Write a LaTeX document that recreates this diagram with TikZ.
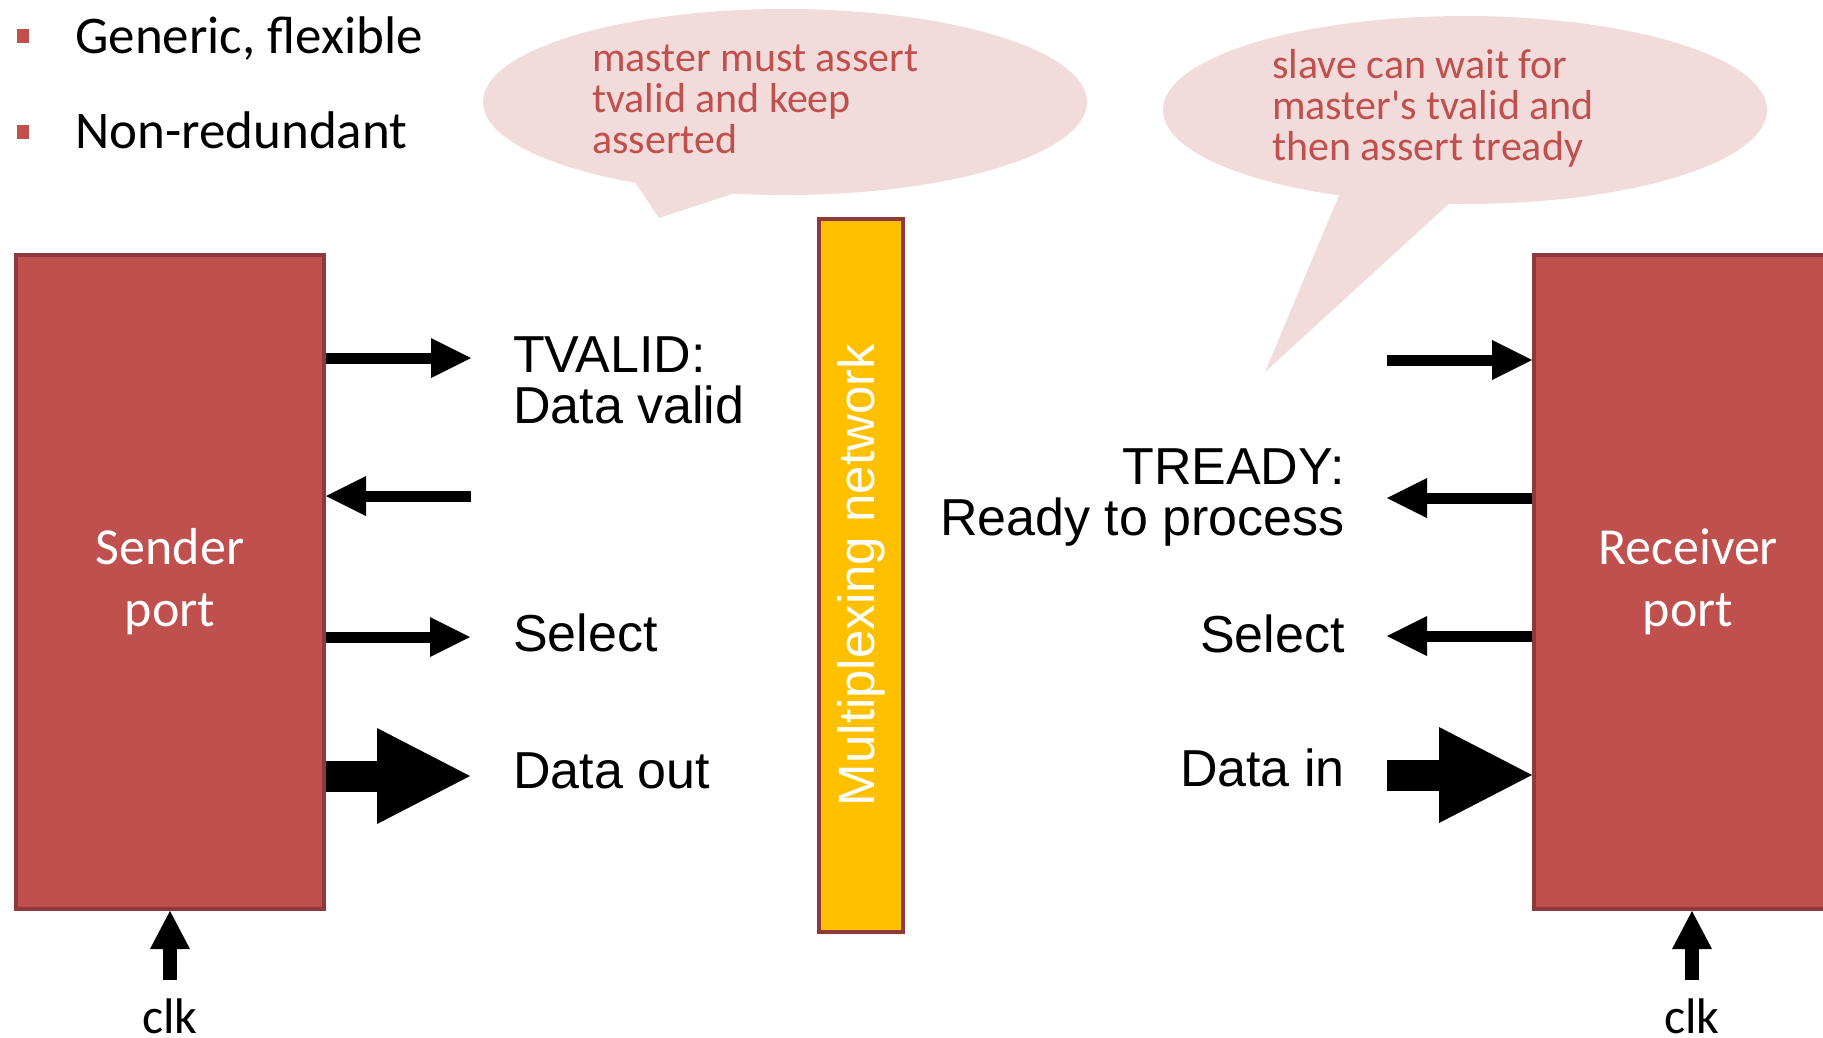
\documentclass[tikz,border=0pt]{standalone}
\usepackage{fontspec}
\setmainfont{Carlito}
\newfontfamily\arialfont{Liberation Sans}
\usetikzlibrary{arrows.meta}
\definecolor{portred}{HTML}{C0504D}
\definecolor{portedge}{HTML}{8C3A3B}
\definecolor{bubblepink}{HTML}{F2DCDB}
\definecolor{muxyellow}{HTML}{FFC000}

\begin{document}
\begin{tikzpicture}[x=1pt, y=-1pt,
  port/.style={draw=portedge, line width=4pt, fill=portred, text=white, minimum width=308pt, minimum height=654pt, align=center, font=\fontsize{52}{62}\selectfont},
  sig/.style={line width=11pt, -{Triangle[length=40pt, width=40pt, line width=0pt]}},
  bus/.style={line width=31pt, -{Triangle[length=93pt, width=96pt, line width=0pt]}},
  clkin/.style={line width=14pt, -{Triangle[length=38pt, width=40pt, line width=0pt]}},
  lbl/.style={inner sep=0pt, align=left, font=\arialfont\fontsize{52}{51}\selectfont},
  note/.style={inner sep=0pt, text=portred, align=left, font=\fontsize{42}{41}\selectfont},
  bubble/.style={fill=bubblepink}]
\useasboundingbox (0,0) rectangle (1823,1037);

% bullet list
\fill[portred] (17,29) rectangle (29,43);
\fill[portred] (17,125) rectangle (29,139);
\node[inner sep=0pt, anchor=base west, font=\fontsize{53}{60}\selectfont] (generic) at (75,53) {Generic, flexible};
\node[inner sep=0pt, anchor=base west, font=\fontsize{53}{60}\selectfont] (nonred) at (75,148) {Non-redundant};

% speech bubbles (base anchor sits on the last line)
\fill[bubble] (785,102) ellipse [x radius=302, y radius=93];
\fill[bubble] (635,182) -- (659,218) -- (744,190) -- cycle;
\node[note, anchor=base west] (masternote) at (592,153) {master must assert\\tvalid and keep\\asserted};

\fill[bubble] (1465,110) ellipse [x radius=302, y radius=94];
\fill[bubble] (1340,193) -- (1265,372) -- (1453,200) -- cycle;
\node[note, anchor=base west] (slavenote) at (1272,160) {slave can wait for\\master\textquotesingle s tvalid and\\then assert tready};

% ports and network
\node[port] (sender) at (170,582) {Sender\\port};
\node[port] (receiver) at (1688,582) {Receiver\\port};
\node[draw=portedge, line width=4pt, fill=muxyellow, minimum width=713pt, minimum height=84pt, rotate=90, text=white, font=\arialfont\fontsize{51}{60}\selectfont] (mux) at (861,575) {Multiplexing network};

% sender side signals
\coordinate (tvalid) at (471,358);
\coordinate (tready) at (471,496);
\coordinate (selout) at (470,637);
\coordinate (dout) at (470,776);
\draw[sig] (tvalid -| sender.east) -- (tvalid);
\draw[sig] (tready) -- (tready -| sender.east);
\draw[sig] (selout -| sender.east) -- (selout);
\draw[bus] (dout -| sender.east) -- (dout);

\node[lbl, anchor=base west] (tvalidlbl) at (513,423) {TVALID:\\Data valid};
\node[lbl, anchor=base west] (sellbl) at (513,651) {Select};
\node[lbl, anchor=base west] (doutlbl) at (513,788) {Data out};

% receiver side signals
\coordinate (rvalid) at (1387,360);
\coordinate (rready) at (1387,498);
\coordinate (rsel) at (1387,636);
\coordinate (din) at (1387,775);
\draw[sig] (rvalid) -- (rvalid -| receiver.west);
\draw[sig] (rready -| receiver.west) -- (rready);
\draw[sig] (rsel -| receiver.west) -- (rsel);
\draw[bus] (din) -- (din -| receiver.west);

\node[lbl, anchor=base east, align=right] (treadylbl) at (1345,535) {TREADY:\\Ready to process};
\node[lbl, anchor=base east] (rsellbl) at (1345,652) {Select};
\node[lbl, anchor=base east] (dinlbl) at (1345,786) {Data in};

% clocks
\coordinate (clka) at (170,980);
\coordinate (clkb) at (1692,980);
\draw[clkin] (clka) -- (sender.south);
\draw[clkin] (clkb) -- (clkb |- receiver.south);
\node[inner sep=0pt, anchor=base, font=\fontsize{50}{60}\selectfont] (clkalbl) at (170,1033) {clk};
\node[inner sep=0pt, anchor=base, font=\fontsize{50}{60}\selectfont] (clkblbl) at (1692,1033) {clk};
\end{tikzpicture}
\end{document}
